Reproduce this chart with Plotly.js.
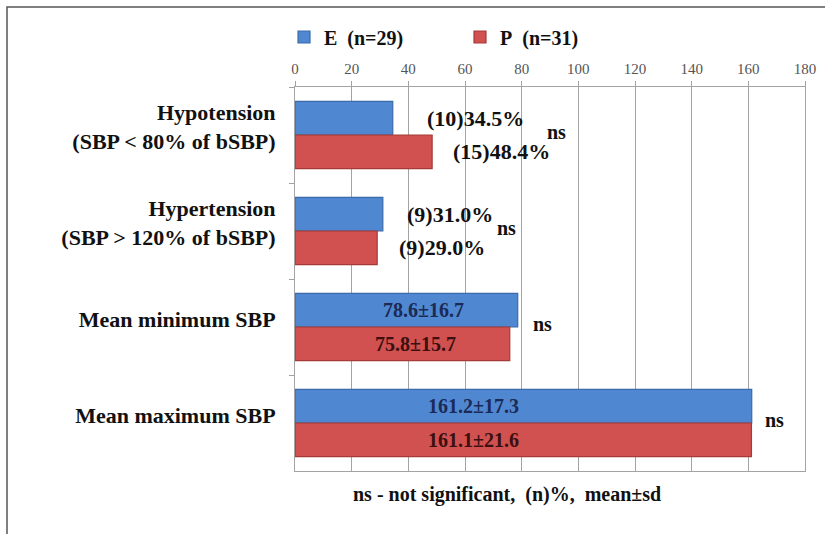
<!DOCTYPE html>
<html>
<head>
<meta charset="utf-8">
<script src="https://cdn.plot.ly/plotly-3.0.1.min.js"></script>
</head>
<body style="margin:0;padding:0;background:#ffffff">
<div id="chart" style="width:825px;height:534px"></div>
<script>
// ---- data ----
const categories = [
  'Hypotension<br>(SBP &lt; 80% of bSBP)',
  'Hypertension<br>(SBP &gt; 120% of bSBP)',
  'Mean minimum SBP',
  'Mean maximum SBP'
];
const groupE = 'E\u00a0\u00a0(n=29)';
const groupP = 'P\u00a0\u00a0(n=31)';
const valuesE = [34.5, 31.0, 78.6, 161.2];
const valuesP = [48.4, 29.0, 75.8, 161.1];
const labelsE = ['(10)34.5%', '(9)31.0%', '78.6±16.7', '161.2±17.3'];
const labelsP = ['(15)48.4%', '(9)29.0%', '75.8±15.7', '161.1±21.6'];
const significance = ['ns', 'ns', 'ns', 'ns'];
const xTickValues = [0, 20, 40, 60, 80, 100, 120, 140, 160, 180];
const footnote = 'ns - not significant,\u00a0\u00a0(n)%,\u00a0\u00a0mean±sd';

// ---- styling ----
const W = 825, H = 534;
const M = { l: 295, r: 20, t: 87, b: 63 };
const plotW = W - M.l - M.r, plotH = H - M.t - M.b;
const FAMILY = 'Liberation Serif';
const BARGAP = 0.3;
const half = (1 - BARGAP) / 4;          // centre offset of each bar in a group
const blue = '#4f88d0', blueEdge = '#3a6aa8', blueInk = '#1b2a56';
const red = '#d0514f', redEdge = '#a53a38', redInk = '#3c1010';
const gridGrey = '#a3a3a3';
// label placement, in pixels: percentage labels sit right of the bar end,
// mean±sd labels sit inside the bar, shifted from its centre
const padE = [32, 22, 17, -50];
const padP = [19, 20, 13, -50];
const padSig = [113, 112, 13, 11];

const isPct = s => s.endsWith('%');
const boldFont = (size, color) => ({ family: FAMILY, size: size, color: color, weight: 'bold' });

const traceE = {
  type: 'bar', orientation: 'h', name: groupE,
  y: categories, x: valuesE,
  marker: { color: blue, line: { color: blueEdge, width: 1.2 } },
  hoverinfo: 'x+name'
};
const traceP = {
  type: 'bar', orientation: 'h', name: groupP,
  y: categories, x: valuesP,
  marker: { color: red, line: { color: redEdge, width: 1.2 } },
  hoverinfo: 'x+name'
};

const annotations = [];
function barLabel(value, label, yPos, pad, ink) {
  const outside = isPct(label);
  return {
    xref: 'x', yref: 'y', y: yPos,
    x: outside ? value : value / 2,
    xanchor: outside ? 'left' : 'center', yanchor: 'middle',
    xshift: pad, text: label, showarrow: false,
    font: outside ? boldFont(22, '#111') : boldFont(20, ink)
  };
}
categories.forEach((c, i) => {
  annotations.push(barLabel(valuesE[i], labelsE[i], i - half, padE[i], blueInk));
  annotations.push(barLabel(valuesP[i], labelsP[i], i + half, padP[i], redInk));
  annotations.push({ xref: 'x', yref: 'y', x: Math.max(valuesE[i], valuesP[i]), y: i,
    xanchor: 'left', yanchor: 'middle', xshift: padSig[i], yshift: 3,
    text: significance[i], showarrow: false, font: boldFont(20, '#111') });
});

// footnote under the plot
const px2x = px => (px - M.l) / plotW;
const px2y = py => (H - M.b - py) / plotH;
annotations.push({ xref: 'paper', yref: 'paper', x: px2x(507), y: px2y(494),
  xanchor: 'center', yanchor: 'middle', text: footnote, showarrow: false,
  font: boldFont(20, '#111') });

// outer frame (top and left edges)
const frame = {
  type: 'path', xref: 'paper', yref: 'paper',
  path: `M ${px2x(7)},${px2y(H + 10)} L ${px2x(7)},${px2y(7)} L ${px2x(W + 10)},${px2y(7)}`,
  line: { color: '#555555', width: 1.5 }
};

const layout = {
  width: W, height: H,
  margin: M,
  font: { family: FAMILY, size: 16, color: '#111' },
  paper_bgcolor: '#ffffff', plot_bgcolor: '#ffffff',
  barmode: 'group', bargap: BARGAP, bargroupgap: 0,
  showlegend: true,
  legend: {
    orientation: 'h', x: px2x(284), y: px2y(37), xanchor: 'left', yanchor: 'middle',
    font: boldFont(20, '#111'),
    entrywidth: 131, entrywidthmode: 'pixels', traceorder: 'normal',
    bgcolor: 'rgba(0,0,0,0)'
  },
  xaxis: {
    side: 'top', range: [0, 180], tickvals: xTickValues, ticktext: xTickValues.map(String),
    showgrid: true, gridcolor: gridGrey, gridwidth: 1,
    showline: true, linecolor: gridGrey, linewidth: 1, mirror: true,
    ticks: 'outside', ticklen: 5, tickcolor: gridGrey, tickwidth: 1,
    tickfont: { family: FAMILY, size: 15, color: '#555' },
    ticklabelstandoff: 1,
    zeroline: false, fixedrange: true
  },
  yaxis: {
    type: 'category', autorange: 'reversed',
    showline: true, linecolor: gridGrey, linewidth: 1, mirror: true,
    ticks: 'outside', tickson: 'boundaries', ticklen: 5, tickcolor: gridGrey, tickwidth: 1,
    tickfont: boldFont(22, '#111'),
    ticklabelstandoff: 14, ticklabelshift: 8,
    showgrid: false, fixedrange: true
  },
  annotations: annotations,
  shapes: [frame]
};

Plotly.newPlot('chart', [traceE, traceP], layout, { displayModeBar: false, staticPlot: true });
</script>
</body>
</html>
